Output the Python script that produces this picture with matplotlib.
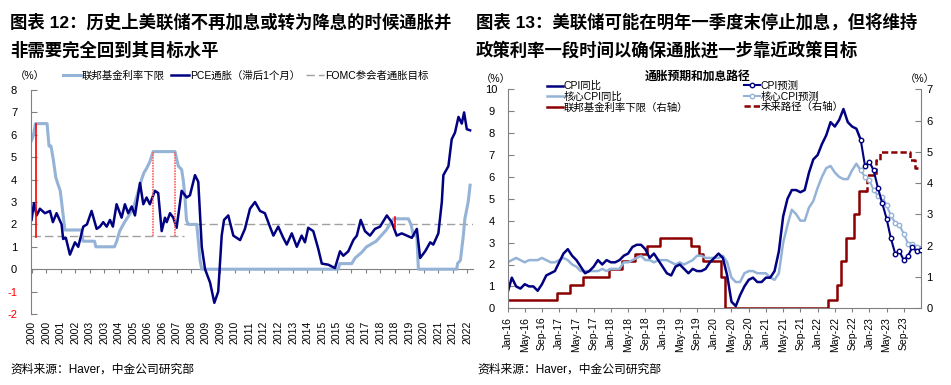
import matplotlib
matplotlib.use("Agg")
import matplotlib.pyplot as plt
from matplotlib.lines import Line2D

plt.rcParams['font.family'] = ['Liberation Sans', 'Noto Sans CJK SC', 'DejaVu Sans']
plt.rcParams['axes.unicode_minus'] = False

NAVY = '#000080'
LIGHT = '#95B3D7'
DARKRED = '#8B0000'
GRAY = '#808080'

# ---------------- 图表12 数据 ----------------
# 联邦基金利率下限（年份, %）
ff_years = [2000.0, 2000.1, 2000.2, 2000.8, 2000.9, 2001.0, 2001.12, 2001.25, 2001.38, 2001.48,
            2001.55, 2001.72, 2002.58, 2002.65, 2003.25, 2003.32, 2004.28, 2004.4, 2004.55, 2004.8,
            2005.25, 2005.45, 2005.68, 2005.8, 2005.94, 2006.11, 2006.28, 2007.41, 2007.58, 2007.75,
            2007.83, 2007.92, 2008.0, 2008.09, 2008.53, 2008.62, 2008.7, 2008.79, 2015.84, 2015.92,
            2016.54, 2016.71, 2017.05, 2017.3, 2017.8, 2018.06, 2018.32, 2018.69, 2019.46, 2019.6,
            2019.72, 2019.9, 2019.98, 2021.96, 2022.0, 2022.15, 2022.3, 2022.38, 2022.55, 2022.65]
ff_values = [5.75, 6.0, 6.5, 6.5, 5.5, 5.5, 4.9, 4.1, 3.75, 3.5,
             3.0, 1.75, 1.75, 1.25, 1.25, 1.0, 1.0, 1.25, 1.7, 2.1,
             2.7, 3.3, 4.0, 4.3, 4.5, 4.8, 5.25, 5.25, 4.6, 4.45,
             4.0, 3.25, 2.2, 2.0, 2.0, 1.2, 0.4, 0.0, 0.0, 0.25,
             0.25, 0.5, 0.75, 1.0, 1.25, 1.5, 1.75, 2.25, 2.25, 2.0,
             1.5, 1.5, 0.0, 0.0, 0.25, 0.4, 1.5, 2.25, 3.0, 3.75]

# PCE通胀（滞后1个月）
pce_years = [2000.0, 2000.12, 2000.26, 2000.43, 2000.69, 2000.95, 2001.1, 2001.29, 2001.55, 2001.63,
             2001.77, 2001.98, 2002.24, 2002.41, 2002.67, 2002.86, 2003.1, 2003.36, 2003.53, 2003.7,
             2003.88, 2004.05, 2004.2, 2004.39, 2004.65, 2004.82, 2004.99, 2005.17, 2005.34, 2005.6,
             2005.77, 2005.94, 2006.11, 2006.37, 2006.54, 2006.72, 2006.89, 2006.98, 2007.15, 2007.32,
             2007.49, 2007.75, 2008.01, 2008.18, 2008.44, 2008.61, 2008.79, 2008.96, 2009.22, 2009.44,
             2009.64, 2009.82, 2009.94, 2010.16, 2010.42, 2010.77, 2011.02, 2011.28, 2011.54, 2011.8,
             2012.05, 2012.31, 2012.49, 2012.74, 2013.0, 2013.18, 2013.44, 2013.7, 2013.95, 2014.12,
             2014.29, 2014.55, 2014.81, 2014.99, 2015.33, 2015.67, 2015.93, 2016.1, 2016.36, 2016.62,
             2016.8, 2017.0, 2017.22, 2017.48, 2017.74, 2018.0, 2018.35, 2018.6, 2018.86, 2019.12,
             2019.38, 2019.64, 2019.9, 2020.07, 2020.33, 2020.59, 2020.75, 2021.01, 2021.19, 2021.27,
             2021.53, 2021.7, 2021.87, 2022.05, 2022.22, 2022.34, 2022.48, 2022.65]
pce_values = [2.2, 2.95, 2.4, 2.7, 2.5, 2.6, 2.1, 2.5, 2.0, 1.35,
              1.4, 0.65, 1.2, 1.0, 1.9, 2.0, 2.6, 1.8, 1.9, 2.1,
              1.9, 2.2, 1.9, 2.9, 2.3, 2.9, 2.5, 2.8, 2.4, 3.85,
              2.9, 3.2, 2.9, 3.5, 3.4, 1.7, 2.3, 2.1, 2.5, 2.3,
              1.85, 3.5, 3.2, 3.3, 4.2, 3.9, 1.0, 0.0, -0.6, -1.5,
              -1.0, 1.5, 2.2, 2.4, 1.5, 1.3, 1.8, 2.7, 3.0, 2.6,
              2.5, 1.9, 1.5, 1.9, 1.4, 1.1, 1.6, 1.0, 1.5, 1.2,
              1.85, 1.7, 0.9, 0.25, 0.2, 0.05, 0.8, 0.6, 0.8, 1.3,
              1.5, 2.2, 1.7, 1.5, 1.8, 1.9, 2.4, 2.1, 1.5, 1.6,
              1.5, 1.4, 1.8, 0.5, 0.8, 1.2, 1.1, 1.6, 3.0, 4.2,
              4.6, 5.8, 6.1, 6.8, 6.5, 7.0, 6.25, 6.2]

# FOMC参会者通胀目标（起, 止, 水平）
fomc_start = [2000.0, 2007.85]
fomc_end = [2007.85, 2022.8]
fomc_level = [1.5, 2.0]

# 停止加息/转为降息时点（红线）
stop_years = [2000.21, 2006.27, 2007.43, 2018.78]
stop_low = [1.45, 1.5, 1.5, 1.85]
stop_high = [6.5, 5.25, 5.25, 2.35]
stop_dotted = [False, True, True, False]

year_labels = ['2000', '2000', '2001', '2002', '2003', '2003', '2004', '2005', '2006', '2006',
               '2007', '2008', '2009', '2009', '2010', '2011', '2012', '2012', '2013', '2014',
               '2015', '2015', '2016', '2017', '2018', '2018', '2019', '2020', '2021', '2021', '2022']

# ---------------- 图表13 数据 ----------------
month_labels = ['Jan-16', 'May-16', 'Sep-16', 'Jan-17', 'May-17', 'Sep-17', 'Jan-18', 'May-18',
                'Sep-18', 'Jan-19', 'May-19', 'Sep-19', 'Jan-20', 'May-20', 'Sep-20', 'Jan-21',
                'May-21', 'Sep-21', 'Jan-22', 'May-22', 'Sep-22', 'Jan-23', 'May-23', 'Sep-23']

cpi_yoy = [0.7, 1.4, 1.0, 0.9, 1.1, 1.0, 1.0, 0.8, 1.1, 1.5, 1.6, 1.7, 2.1,
           2.5, 2.7, 2.4, 2.2, 1.9, 1.6, 1.7, 1.9, 2.2, 2.0, 2.2, 2.1,
           2.1, 2.2, 2.4, 2.5, 2.8, 2.9, 2.9, 2.7, 2.3, 2.5, 2.2, 1.9,
           1.6, 1.5, 1.9, 2.0, 1.8, 1.6, 1.8, 1.7, 1.7, 1.8, 2.1, 2.3,
           2.5, 2.3, 1.5, 0.3, 0.1, 0.6, 1.0, 1.3, 1.4, 1.2, 1.2, 1.4,
           1.4, 1.7, 2.6, 4.2, 5.0, 5.4, 5.4, 5.3, 5.4, 6.2, 6.8, 7.0,
           7.5, 7.9, 8.5, 8.3, 8.6, 9.1, 8.5, 8.3, 8.2, 7.7]
core_yoy = [2.1, 2.2, 2.3, 2.2, 2.1, 2.2, 2.2, 2.2, 2.3, 2.2, 2.1, 2.1, 2.2,
            2.3, 2.2, 2.0, 1.9, 1.7, 1.7, 1.7, 1.7, 1.7, 1.8, 1.7, 1.8,
            1.8, 1.8, 2.1, 2.1, 2.2, 2.3, 2.4, 2.2, 2.2, 2.1, 2.2, 2.2,
            2.2, 2.1, 2.0, 2.1, 2.0, 2.1, 2.2, 2.4, 2.4, 2.3, 2.3, 2.3,
            2.3, 2.4, 2.1, 1.4, 1.2, 1.2, 1.6, 1.7, 1.7, 1.6, 1.6, 1.6,
            1.4, 1.3, 1.6, 3.0, 3.8, 4.5, 4.3, 4.0, 4.0, 4.6, 4.9, 5.5,
            6.0, 6.4, 6.5, 6.2, 6.0, 5.9, 5.9, 6.3, 6.6, 6.3]
cpi_fcst = [7.7, 6.5, 6.7, 6.3, 5.5, 4.8, 4.1, 3.2, 2.5, 2.6, 2.2, 2.4, 2.8, 2.6, 2.65]
core_fcst = [6.3, 6.0, 5.85, 5.4, 5.15, 5.1, 4.7, 4.25, 3.9, 3.8, 3.4, 2.95, 2.95, 2.8, 2.65]
fcst_start = 82

fed_lower = ([0.25] * 12 + [0.5] * 3 + [0.75] * 3 + [1.0] * 6 + [1.25] * 3 + [1.5] * 3 +
             [1.75] * 3 + [2.0] * 3 + [2.25] * 7 + [2.0] * 2 + [1.75] + [1.5] * 4 + [1.0] +
             [0.0] * 24 + [0.25] * 2 + [0.75] + [1.5] + [2.25] * 2 + [3.0] + [3.75] * 2)
fed_path = [3.75, 4.25, 4.25, 4.75, 5.0, 5.0, 5.0, 5.0, 5.0, 5.0, 5.0, 4.75, 4.5, 4.5]
path_start = 83

# ---------------- 画图 ----------------
fig = plt.figure(figsize=(9.51, 3.85), dpi=100)

fig.text(10 / 951, 1 - 22 / 385, '图表 12：历史上美联储不再加息或转为降息的时候通胀并',
         fontsize=12.5, weight='bold', va='center')
fig.text(10 / 951, 1 - 50 / 385, '非需要完全回到其目标水平', fontsize=12.5, weight='bold', va='center')
fig.text(476 / 951, 1 - 22 / 385, '图表 13：美联储可能在明年一季度末停止加息，但将维持',
         fontsize=12.5, weight='bold', va='center')
fig.text(476 / 951, 1 - 50 / 385, '政策利率一段时间以确保通胀进一步靠近政策目标',
         fontsize=12.5, weight='bold', va='center')
fig.text(10 / 951, 1 - 370 / 385, '资料来源：Haver，中金公司研究部', fontsize=8.5, va='center')
fig.text(477 / 951, 1 - 370 / 385, '资料来源：Haver，中金公司研究部', fontsize=8.5, va='center')

# ----- 左图 -----
ax1 = fig.add_axes([31 / 951, 1 - 314 / 385, 442 / 951, 224 / 385])
for s, e, lv in zip(fomc_start, fomc_end, fomc_level):
    ax1.plot([s, e], [lv, lv], color='#A0A0A0', lw=1, ls=(0, (6, 3)))
ax1.plot(ff_years, ff_values, color=LIGHT, lw=2.2)
ax1.plot(pce_years, pce_values, color=NAVY, lw=1.8)
for yr, lo, hi, dot in zip(stop_years, stop_low, stop_high, stop_dotted):
    if dot:
        ax1.plot([yr, yr], [lo, hi], color='#FF6060', lw=1.2, ls=(0, (1, 0.6)))
    else:
        ax1.plot([yr, yr], [lo, hi], color='#FF0000', lw=1.2)

xt = [2000 + 0.75 * k for k in range(len(year_labels))]
ax1.set_xlim(1999.97, 2022.8)
ax1.set_ylim(-2, 8)
ax1.set_xticks(xt)
ax1.set_xticklabels(year_labels, rotation=90, fontsize=7.5)
ax1.tick_params(axis='x', length=0, pad=5)
ax1.set_yticks(range(-2, 9))
ax1.tick_params(axis='y', direction='in', length=4, color=GRAY, labelsize=8, pad=10)
for lbl, v in zip(ax1.get_yticklabels(), range(-2, 9)):
    if v < 0:
        lbl.set_color('red')
for sp in ['top', 'right', 'bottom']:
    ax1.spines[sp].set_visible(False)
ax1.spines['left'].set_color(GRAY)
sec = ax1.secondary_xaxis(0.2)
sec.set_xticks(xt)
sec.set_xticklabels([])
sec.tick_params(direction='out', length=3, color=GRAY)
sec.spines['bottom'].set_color(GRAY)

fig.text(30 / 951, 1 - 76 / 385, '（%）', fontsize=7.5, va='center', ha='center')
h1 = [Line2D([], [], color=LIGHT, lw=2.2), Line2D([], [], color=NAVY, lw=1.8),
      Line2D([], [], color='#A0A0A0', lw=1, ls=(0, (6, 3)))]
fig.legend(h1, ['联邦基金利率下限', 'PCE通胀（滞后1个月）', 'FOMC参会者通胀目标'],
           loc='center left', bbox_to_anchor=(63 / 951, 1 - 76 / 385), ncol=3, frameon=False,
           fontsize=7.5, handlelength=1.7, handletextpad=0.1, columnspacing=0.6,
           borderpad=0, borderaxespad=0)

# ----- 右图 -----
ax2 = fig.add_axes([507.5 / 951, 1 - 308.3 / 385, 413.5 / 951, 219 / 385])
ax3 = ax2.twinx()
ax2.set_zorder(ax3.get_zorder() + 1)
ax2.patch.set_visible(False)

ax3.step(range(len(fed_lower)), fed_lower, where='mid', color=DARKRED, lw=1.8)
ax3.step(range(path_start, path_start + len(fed_path)), fed_path, where='mid',
         color=DARKRED, lw=1.8, ls=(0, (2.5, 1.2)))
ax2.plot(range(len(core_yoy)), core_yoy, color=LIGHT, lw=1.8)
ax2.plot(range(len(cpi_yoy)), cpi_yoy, color=NAVY, lw=1.8)
ax2.plot(range(fcst_start, fcst_start + len(core_fcst)), core_fcst, color=LIGHT, lw=1.5,
         marker='o', ms=3.2, mfc='white', mec=LIGHT, mew=1)
ax2.plot(range(fcst_start, fcst_start + len(cpi_fcst)), cpi_fcst, color=NAVY, lw=1.5,
         marker='o', ms=3.2, mfc='white', mec=NAVY, mew=1)

ax2.set_xlim(0, 96)
ax2.set_ylim(0, 10)
ax3.set_ylim(0, 7)
ax2.set_xticks(range(0, 4 * len(month_labels), 4))
ax2.set_xticklabels(month_labels, rotation=90, fontsize=7.5)
ax2.tick_params(axis='x', direction='out', length=3, color=GRAY, pad=3)
ax2.set_yticks(range(0, 11))
ax2.tick_params(axis='y', direction='in', length=4, color=GRAY, labelsize=8, pad=11.5)
for lbl in ax2.get_yticklabels():
    lbl.set_ha('center')
ax3.set_yticks(range(0, 8))
ax3.tick_params(axis='y', direction='in', length=4, color=GRAY, labelsize=8, pad=4)
for a in (ax2, ax3):
    a.spines['top'].set_visible(False)
ax2.spines['right'].set_visible(False)
ax3.spines['left'].set_visible(False)
ax3.spines['bottom'].set_visible(False)
ax2.spines['left'].set_color(GRAY)
ax2.spines['bottom'].set_color(GRAY)
ax3.spines['right'].set_color(GRAY)

fig.text(496 / 951, 1 - 79 / 385, '（%）', fontsize=7.5, va='center', ha='center')
fig.text(920 / 951, 1 - 79 / 385, '（%）', fontsize=7.5, va='center', ha='center')
fig.text(698 / 951, 1 - 77 / 385, '通胀预期和加息路径', fontsize=8.5, weight='bold',
         va='center', ha='center')

h_left = [Line2D([], [], color=NAVY, lw=1.8), Line2D([], [], color=LIGHT, lw=1.8),
          Line2D([], [], color=DARKRED, lw=1.8)]
h_right = [Line2D([], [], color=NAVY, lw=1.5, marker='o', ms=3.2, mfc='white', mec=NAVY),
           Line2D([], [], color=LIGHT, lw=1.5, marker='o', ms=3.2, mfc='white', mec=LIGHT),
           Line2D([], [], color=DARKRED, lw=1.8, ls=(0, (2.5, 1.2)))]
fig.legend(h_left, ['CPI同比', '核心CPI同比', '联邦基金利率下限（右轴）'],
           loc='upper left', bbox_to_anchor=(547 / 951, 1 - 81 / 385), frameon=False,
           fontsize=7.5, handlelength=1.5, handletextpad=0.1, labelspacing=0.05,
           borderpad=0, borderaxespad=0)
fig.legend(h_right, ['CPI预测', '核心CPI预测', '未来路径（右轴）'],
           loc='upper left', bbox_to_anchor=(744 / 951, 1 - 81 / 385), frameon=False,
           fontsize=7.5, handlelength=1.5, handletextpad=0.1, labelspacing=0.05,
           borderpad=0, borderaxespad=0)

fig.savefig('out.png', dpi=100)
